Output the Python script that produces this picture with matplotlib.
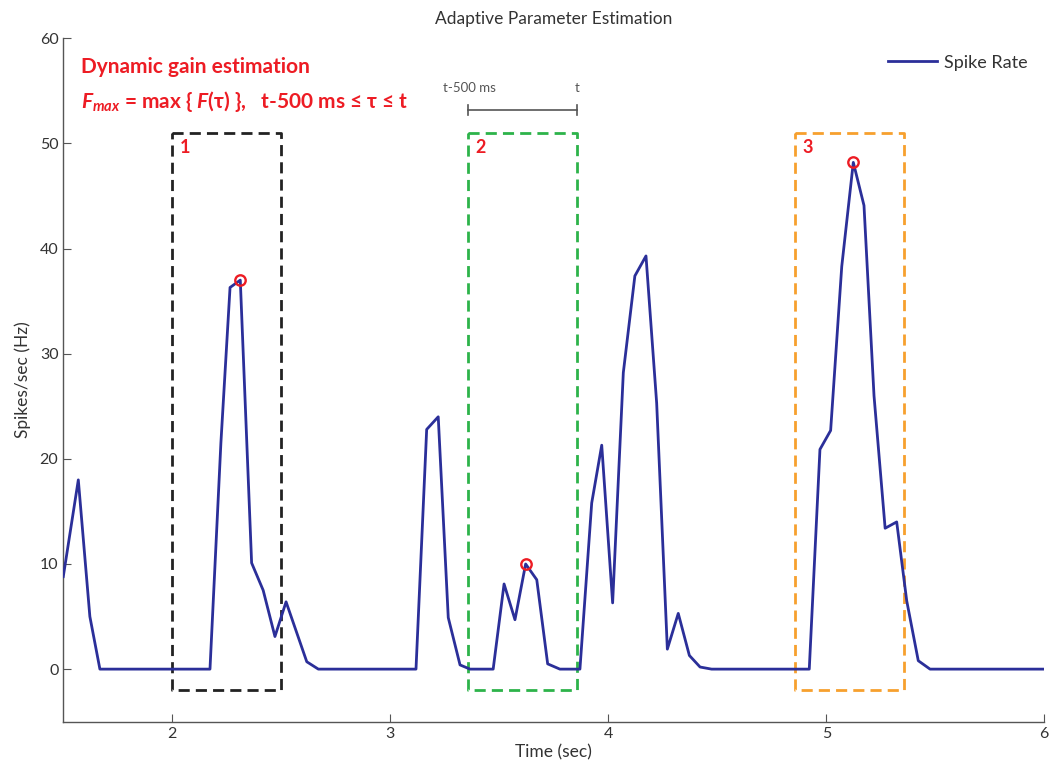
import matplotlib
matplotlib.use("Agg")
import matplotlib.pyplot as plt

plt.rcParams['font.family'] = ['Lato', 'DejaVu Sans']
plt.rcParams['mathtext.fontset'] = 'custom'
plt.rcParams['mathtext.it'] = 'Lato:italic:bold'
plt.rcParams['mathtext.rm'] = 'Lato:bold'
plt.rcParams['mathtext.bf'] = 'Lato:bold'

# ---- data ----
time_s = [1.50, 1.569, 1.622, 1.668, 2.173, 2.223, 2.265, 2.312, 2.364, 2.417,
          2.471, 2.522, 2.617, 2.670, 3.118, 3.167, 3.220, 3.266, 3.320, 3.366,
          3.472, 3.522, 3.572, 3.621, 3.672, 3.722, 3.778, 3.870, 3.924, 3.970,
          4.020, 4.069, 4.122, 4.173, 4.222, 4.271, 4.321, 4.372, 4.421, 4.474,
          4.922, 4.971, 5.020, 5.071, 5.124, 5.173, 5.219, 5.270, 5.323, 5.369,
          5.422, 5.476, 6.0]
spike_rate = [8.8, 18.0, 5.0, 0.0, 0.0, 21.5, 36.3, 37.0, 10.1, 7.5,
              3.1, 6.4, 0.7, 0.0, 0.0, 22.8, 24.0, 4.9, 0.4, 0.0,
              0.0, 8.1, 4.7, 10.0, 8.5, 0.5, 0.0, 0.0, 15.8, 21.3,
              6.3, 28.2, 37.4, 39.3, 25.3, 1.9, 5.3, 1.3, 0.2, 0.0,
              0.0, 20.9, 22.7, 38.3, 48.2, 44.1, 26.0, 13.4, 14.0, 6.5,
              0.8, 0.0, 0.0]

peak_times = [2.312, 3.621, 5.124]
peak_values = [37.0, 10.0, 48.2]

window_starts = [2.0, 3.355, 4.855]
window_ends = [2.5, 3.855, 5.355]
window_labels = ["1", "2", "3"]
window_colors = ["#222222", "#2db34a", "#f7a02e"]
box_bottom, box_top = -2.0, 51.0

xticks = [2, 3, 4, 5, 6]
yticks = [0, 10, 20, 30, 40, 50, 60]

red = "#ed1c24"
blue = "#2b2f99"
gray = "#555555"

fig = plt.figure(figsize=(10.51, 7.68), dpi=100)
ax = fig.add_axes([0.0602, 0.0603, 0.9334, 0.8898])

ax.plot(time_s, spike_rate, color=blue, lw=2.0, label="Spike Rate", zorder=3)
ax.plot(peak_times, peak_values, 'o', ms=7.5, mfc='none', mec=red, mew=1.7, zorder=4)

for x0, x1, lab, c in zip(window_starts, window_ends, window_labels, window_colors):
    ax.plot([x0, x1, x1, x0, x0], [box_top, box_top, box_bottom, box_bottom, box_top],
            color=c, lw=2.0, dashes=(4, 2.2), zorder=2)
    ax.text(x0 + 0.035, box_top - 0.6, lab, color=red, fontsize=13, fontweight='bold',
            ha='left', va='top')

# t-500 ms bracket over window 2
bx0, bx1 = window_starts[1], window_ends[1]
ax.plot([bx0, bx1], [53.2, 53.2], color=gray, lw=1.2)
ax.plot([bx0, bx0], [52.7, 53.7], color=gray, lw=1.2)
ax.plot([bx1, bx1], [52.7, 53.7], color=gray, lw=1.2)
ax.text(bx0 + 0.01, 54.7, "t-500 ms", color=gray, fontsize=9.5, ha='center', va='bottom')
ax.text(bx1, 54.7, "t", color=gray, fontsize=9.5, ha='center', va='bottom')

ax.text(1.58, 57.3, "Dynamic gain estimation", color=red, fontsize=15,
        fontweight='bold', ha='left', va='center')
ax.text(1.58, 54.0, r"$F_{max}$" + " = max { " + r"$F$" + "(τ) },   t-500 ms ≤ τ ≤ t",
        color=red, fontsize=15, fontweight='bold', ha='left', va='center')

ax.set_xlim(1.5, 6)
ax.set_ylim(-5, 60)
ax.set_xticks(xticks)
ax.set_yticks(yticks)
ax.tick_params(direction='in', length=6, width=0.8, color=gray, labelcolor='#333333',
               labelsize=11.5)
for s in ['top', 'right']:
    ax.spines[s].set_visible(False)
for s in ['left', 'bottom']:
    ax.spines[s].set_color(gray)
    ax.spines[s].set_linewidth(1.0)

ax.set_xlabel("Time (sec)", fontsize=12.5, color='#333333', labelpad=3)
ax.set_ylabel("Spikes/sec (Hz)", fontsize=12.5, color='#333333', labelpad=6)
ax.set_title("Adaptive Parameter Estimation", fontsize=12.5, color='#333333', pad=10)

ax.legend(loc='upper right', frameon=False, fontsize=13, handlelength=2.7,
          handletextpad=0.4, bbox_to_anchor=(1.0, 1.0), labelcolor='#333333')

fig.savefig("out.png", dpi=100)
